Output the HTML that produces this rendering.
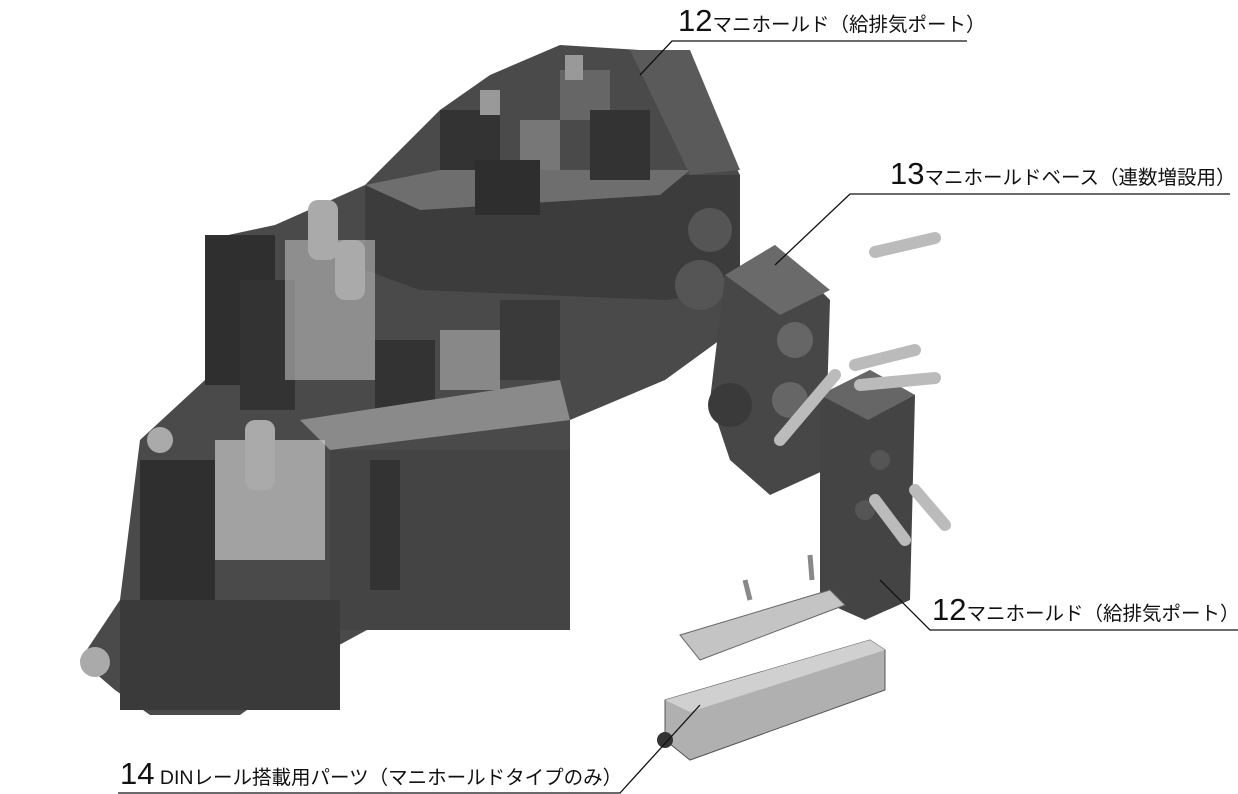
<!DOCTYPE html>
<html><head><meta charset="utf-8"><style>
html,body{margin:0;padding:0;background:#fff;}
body{width:1238px;height:794px;position:relative;overflow:hidden;font-family:"Liberation Sans","Noto Sans CJK JP",sans-serif;}
.l{position:absolute;white-space:nowrap;color:#111;line-height:1;}
.n{font-size:31px;}
.t{font-size:19.5px;}
</style></head><body>
<svg width="1238" height="794" style="position:absolute;left:0;top:0">
<!-- main assembly silhouette -->
<polygon points="205,240 275,225 365,185 440,110 490,75 560,45 640,50 690,75 740,175 740,290 720,340 665,380 570,420 570,520 330,650 240,715 150,715 115,690 80,660 120,600 140,440 205,380" fill="#4a4a4a"/>
<!-- top manifold body -->
<polygon points="365,185 440,170 690,175 740,175 740,290 665,300 420,290 365,270" fill="#3c3c3c"/>
<polygon points="365,185 440,170 690,170 660,195 420,210" fill="#6e6e6e"/>
<polygon points="630,50 690,50 740,170 690,175" fill="#5a5a5a"/>
<!-- top valves -->
<rect x="440" y="110" width="60" height="60" fill="#333"/>
<rect x="520" y="120" width="40" height="50" fill="#777"/>
<rect x="475" y="160" width="65" height="55" fill="#2e2e2e"/>
<rect x="560" y="70" width="50" height="50" fill="#666"/>
<rect x="590" y="110" width="60" height="70" fill="#333"/>
<rect x="480" y="90" width="20" height="25" fill="#999"/>
<rect x="565" y="55" width="18" height="25" fill="#999"/>
<!-- mid valves -->
<rect x="375" y="340" width="60" height="70" fill="#333"/>
<rect x="440" y="330" width="60" height="60" fill="#888"/>
<rect x="500" y="300" width="60" height="80" fill="#3a3a3a"/>
<polygon points="300,420 560,380 570,420 330,450" fill="#8a8a8a"/>
<!-- rear blocks -->
<rect x="205" y="235" width="70" height="150" fill="#2f2f2f"/>
<rect x="240" y="280" width="55" height="130" fill="#333"/>
<rect x="285" y="240" width="90" height="140" fill="#bcbcbc" opacity="0.6"/>
<rect x="308" y="200" width="30" height="60" rx="10" fill="#aaa"/>
<rect x="335" y="240" width="30" height="60" rx="10" fill="#aaa"/>
<!-- front assembly -->
<rect x="140" y="460" width="75" height="150" fill="#2f2f2f"/>
<rect x="215" y="440" width="110" height="120" fill="#c8c8c8" opacity="0.7"/>
<rect x="245" y="420" width="30" height="70" rx="10" fill="#aaa"/>
<rect x="330" y="450" width="240" height="180" fill="#444"/>
<rect x="370" y="460" width="30" height="130" fill="#333"/>
<rect x="120" y="600" width="220" height="110" fill="#3a3a3a"/>
<circle cx="95" cy="662" r="15" fill="#aaa"/>
<circle cx="160" cy="440" r="13" fill="#aaa"/>
<circle cx="710" cy="230" r="22" fill="#555"/>
<circle cx="700" cy="285" r="25" fill="#555"/>
<!-- block 13 -->
<polygon points="725,275 775,245 830,300 825,470 770,495 730,460 710,400" fill="#474747"/>
<polygon points="725,275 775,245 830,290 780,315" fill="#6a6a6a"/>
<circle cx="795" cy="340" r="18" fill="#666"/>
<circle cx="790" cy="400" r="18" fill="#666"/>
<circle cx="730" cy="405" r="22" fill="#3a3a3a"/>
<!-- block 12 lower -->
<polygon points="820,395 870,370 915,395 910,600 865,620 820,600" fill="#444"/>
<polygon points="820,395 870,370 915,395 868,420" fill="#666"/>
<circle cx="880" cy="460" r="10" fill="#555"/>
<circle cx="865" cy="510" r="10" fill="#555"/>
<!-- screws -->
<g stroke="#bbb" stroke-width="12" stroke-linecap="round">
<line x1="875" y1="252" x2="935" y2="238"/>
<line x1="855" y1="365" x2="915" y2="350"/>
<line x1="860" y1="385" x2="935" y2="378"/>
<line x1="780" y1="440" x2="835" y2="375"/>
<line x1="875" y1="500" x2="905" y2="540"/>
<line x1="915" y1="490" x2="945" y2="525"/>
</g>
<line x1="745" y1="580" x2="750" y2="600" stroke="#888" stroke-width="5"/>
<line x1="810" y1="555" x2="812" y2="580" stroke="#888" stroke-width="5"/>
<!-- plate -->
<polygon points="680,635 830,590 845,605 700,660" fill="#c4c4c4" stroke="#666"/>
<!-- DIN part -->
<polygon points="665,700 870,640 885,650 885,690 690,760 665,740" fill="#b0b0b0" stroke="#555"/>
<polygon points="665,700 870,640 885,650 690,712" fill="#d0d0d0"/>
<circle cx="665" cy="740" r="8" fill="#333"/>
<!-- leader lines -->
<g stroke="#111" stroke-width="1.3" fill="none">
<polyline points="640,75 672,41 967,41"/>
<polyline points="775,265 850,194 1230,194"/>
<polyline points="880,580 930,630 1238,630"/>
<polyline points="700,705 620,793 118,793"/>
</g>
</svg>
<div class="l" style="left:678px;top:5px"><span class="n">12</span><span class="t">マニホールド（給排気ポート）</span></div>
<div class="l" style="left:890px;top:158px"><span class="n">13</span><span class="t">マニホールドベース（連数増設用）</span></div>
<div class="l" style="left:932px;top:594px"><span class="n">12</span><span class="t">マニホールド（給排気ポート）</span></div>
<div class="l" style="left:120px;top:758px"><span class="n">14</span><span class="t"> DINレール搭載用パーツ（マニホールドタイプのみ）</span></div>
</body></html>
